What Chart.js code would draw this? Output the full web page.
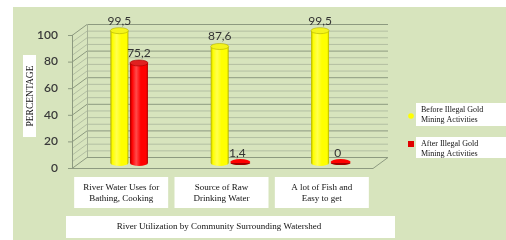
<!DOCTYPE html>
<html>
<head>
<meta charset="utf-8">
<script src="https://cdn.jsdelivr.net/npm/chart.js@4/dist/chart.umd.min.js"></script>
<style>
  html, body { margin: 0; padding: 0; background: #fff; }
  #wrap { position: relative; width: 506px; height: 240px; }
</style>
</head>
<body>
<div id="wrap"><canvas id="chart" width="506" height="240"></canvas></div>
<script>
const categories = [
  ['River Water Uses for', 'Bathing, Cooking'],
  ['Source of Raw', 'Drinking Water'],
  ['A lot of Fish and', 'Easy to get']
];
const beforeValues = [99.5, 87.6, 99.5];
const afterValues = [75.2, 1.4, 0];
const yTickValues = [0, 20, 40, 60, 80, 100];
const seriesNames = [
  ['Before Illegal Gold', 'Mining Activities'],
  ['After Illegal Gold', 'Mining Activities']
];
const yTitle = 'PERCENTAGE';
const xTitle = 'River Utilization by Community Surrounding Watershed';

const SERIF = '"Liberation Serif", "DejaVu Serif", serif';
const SANS = 'Lato, "Liberation Sans", sans-serif';

// 3d offsets of front and back planes relative to the bar plane
const FRONT = { dx: -7, dy: 5 };
const BACK = { dx: 8, dy: -6 };

const palette = [
  { edge: '#b0b000', mid: '#ffff00', light: '#ffff50', top: '#f4f41c' },
  { edge: '#a00000', mid: '#ff0000', light: '#ff4a4a', top: '#e02020' }
];

function whiteBox(ctx, x, y, w, h) {
  ctx.fillStyle = '#ffffff';
  ctx.fillRect(x, y, w, h);
}

const scenePlugin = {
  id: 'scene',
  beforeDraw(chart) {
    const ctx = chart.ctx;
    const { left, right } = chart.chartArea;
    const y = chart.scales.y;
    const x = chart.scales.x;
    ctx.save();
    // panel
    ctx.fillStyle = '#d7e4bd';
    ctx.fillRect(13, 7, 506 - 13, 240 - 7);

    const y0 = y.getPixelForValue(0);
    const y100 = y.getPixelForValue(100);
    const fl = left + FRONT.dx, bl = left + BACK.dx;
    const fr = right + FRONT.dx, br = right + BACK.dx;

    // minor + major grid on back and side walls
    for (let v = 0; v <= 100; v += 5) {
      const py = y.getPixelForValue(v);
      const major = yTickValues.includes(v);
      ctx.strokeStyle = major ? '#8d9a80' : '#b3bfa2';
      ctx.lineWidth = 1;
      ctx.beginPath();
      ctx.moveTo(fl, py + FRONT.dy + 0.5);
      ctx.lineTo(bl, py + BACK.dy + 0.5);
      ctx.lineTo(br, py + BACK.dy + 0.5);
      ctx.stroke();
    }
    // back wall left edge
    ctx.strokeStyle = '#a6b296';
    ctx.beginPath();
    ctx.moveTo(bl + 0.5, y100 + BACK.dy);
    ctx.lineTo(bl + 0.5, y0 + BACK.dy);
    ctx.stroke();
    // floor
    ctx.strokeStyle = '#8d9a80';
    ctx.beginPath();
    ctx.moveTo(fl, y0 + FRONT.dy + 0.5);
    ctx.lineTo(fr, y0 + FRONT.dy + 0.5);
    ctx.lineTo(br, y0 + BACK.dy + 0.5);
    ctx.stroke();
    // front axis line with tick marks
    ctx.beginPath();
    ctx.moveTo(fl + 0.5, y100 + FRONT.dy);
    ctx.lineTo(fl + 0.5, y0 + FRONT.dy);
    y.ticks.forEach(t => {
      const py = y.getPixelForValue(t.value) + FRONT.dy + 0.5;
      ctx.moveTo(fl - 4, py);
      ctx.lineTo(fl, py);
    });
    ctx.stroke();

    // y tick labels
    ctx.fillStyle = '#3a3a3a';
    ctx.font = '600 12px ' + SANS;
    ctx.textAlign = 'right';
    ctx.textBaseline = 'middle';
    y.ticks.forEach(t => {
      ctx.fillText(String(t.value), fl - 14, y.getPixelForValue(t.value) + FRONT.dy);
    });

    // y title
    whiteBox(ctx, 23, 55, 13, 82);
    ctx.save();
    ctx.translate(30, 96);
    ctx.rotate(-Math.PI / 2);
    ctx.fillStyle = '#111';
    ctx.font = '9.5px ' + SERIF;
    ctx.textAlign = 'center';
    ctx.textBaseline = 'middle';
    ctx.fillText(yTitle, 0, 0);
    ctx.restore();

    // category boxes
    ctx.font = '9px ' + SERIF;
    ctx.textAlign = 'center';
    ctx.textBaseline = 'middle';
    categories.forEach((lines, i) => {
      const cx = x.getPixelForValue(i) - 8;
      whiteBox(ctx, cx - 47, 177, 94, 31);
      ctx.fillStyle = '#111';
      lines.forEach((ln, k) => ctx.fillText(ln, cx, 188 + k * 11));
    });

    // x title box
    whiteBox(ctx, 66, 216, 329, 22);
    ctx.fillStyle = '#111';
    ctx.font = '9px ' + SERIF;
    ctx.fillText(xTitle, 219, 227);

    // legend
    const legendTop = [103, 137];
    ctx.textAlign = 'left';
    ctx.font = '8px ' + SERIF;
    seriesNames.forEach((lines, i) => {
      const ty = legendTop[i];
      whiteBox(ctx, 416, ty, 90, i === 0 ? 23 : 21);
      ctx.fillStyle = i === 0 ? '#ffff00' : '#e00000';
      if (i === 0) {
        ctx.beginPath();
        ctx.arc(411, ty + 13, 2.8, 0, Math.PI * 2);
        ctx.fill();
      } else {
        ctx.fillRect(408, ty + 4, 6, 6);
      }
      ctx.fillStyle = '#111';
      lines.forEach((ln, k) => ctx.fillText(ln, 421, ty + 7 + k * 10));
    });
    ctx.restore();
  },
  afterDatasetsDraw(chart) {
    const ctx = chart.ctx;
    ctx.save();
    chart.data.datasets.forEach((ds, di) => {
      const meta = chart.getDatasetMeta(di);
      const col = palette[di];
      meta.data.forEach((bar, i) => {
        const { x, y, base, width } = bar.getProps(['x', 'y', 'base', 'width'], true);
        const rx = width / 2, ry = 3;
        const value = ds.data[i];
        const tall = base - y > 3;
        if (tall) {
          const g = ctx.createLinearGradient(x - rx, 0, x + rx, 0);
          g.addColorStop(0, col.edge);
          g.addColorStop(0.12, col.mid);
          g.addColorStop(0.35, col.light);
          g.addColorStop(0.6, col.mid);
          g.addColorStop(0.9, col.mid);
          g.addColorStop(1, col.edge);
          ctx.fillStyle = g;
          ctx.beginPath();
          ctx.moveTo(x - rx, y);
          ctx.lineTo(x - rx, base);
          ctx.ellipse(x, base, rx, ry, 0, Math.PI, 0, true);
          ctx.lineTo(x + rx, y);
          ctx.closePath();
          ctx.fill();
          ctx.fillStyle = col.top;
          ctx.beginPath();
          ctx.ellipse(x, y, rx, ry, 0, 0, Math.PI * 2);
          ctx.fill();
          ctx.strokeStyle = col.edge;
          ctx.lineWidth = 0.6;
          ctx.stroke();
        } else {
          // flat disk for tiny values
          ctx.fillStyle = col.mid;
          ctx.beginPath();
          ctx.ellipse(x + 1, base - 1, rx + 1, 3, 0, 0, Math.PI * 2);
          ctx.fill();
          ctx.fillStyle = col.edge;
          ctx.beginPath();
          ctx.ellipse(x + 1, base, rx + 1, 2, 0, 0, Math.PI);
          ctx.fill();
        }
        // value label
        ctx.fillStyle = '#333';
        ctx.font = '12px ' + SANS;
        ctx.textAlign = 'center';
        ctx.textBaseline = 'alphabetic';
        ctx.fillText(String(value).replace('.', ','), tall ? x : x - 2, tall ? y - 6 : base - 6);
      });
    });
    ctx.restore();
  }
};

new Chart(document.getElementById('chart'), {
  type: 'bar',
  data: {
    labels: categories.map(c => c.join(' ')),
    datasets: [
      { label: seriesNames[0].join(' '), data: beforeValues, backgroundColor: 'rgba(0,0,0,0)', borderWidth: 0 },
      { label: seriesNames[1].join(' '), data: afterValues, backgroundColor: 'rgba(0,0,0,0)', borderWidth: 0 }
    ]
  },
  options: {
    responsive: false,
    animation: false,
    layout: { padding: { left: 79, right: 126, top: 30, bottom: 77 } },
    datasets: { bar: { categoryPercentage: 0.39, barPercentage: 0.92 } },
    plugins: { legend: { display: false }, tooltip: { enabled: false } },
    scales: {
      x: { display: false },
      y: {
        display: false,
        min: 0,
        max: 100,
        afterBuildTicks: scale => { scale.ticks = yTickValues.map(v => ({ value: v })); }
      }
    }
  },
  plugins: [scenePlugin]
});
</script>
</body>
</html>
